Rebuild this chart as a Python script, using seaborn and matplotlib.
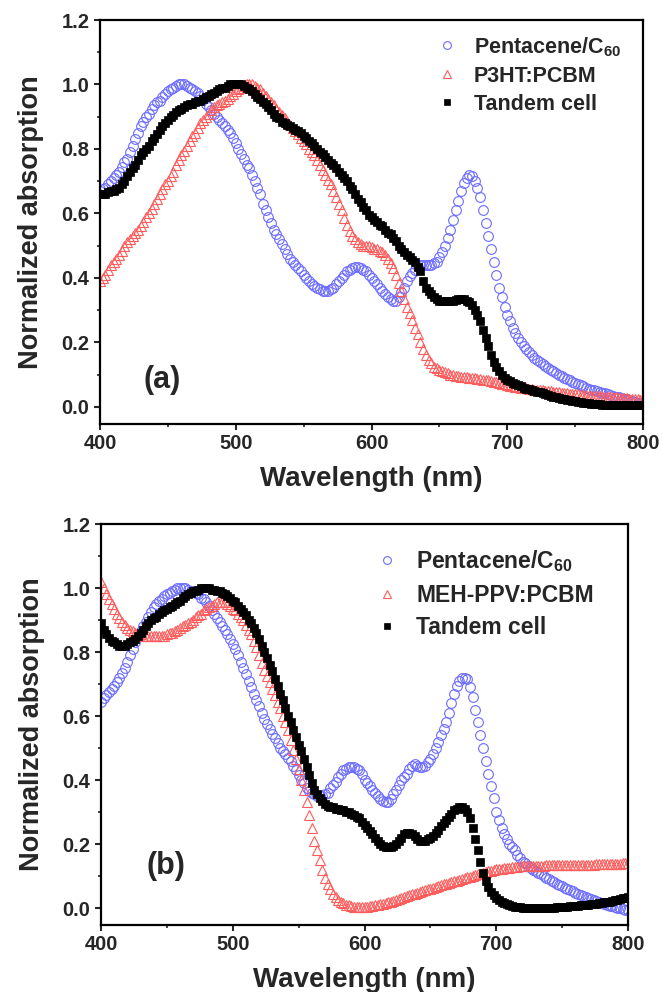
"""Normalized absorption of the sub-cells and the tandem cell, panels (a) and (b)"""

import numpy as np
import pandas as pd
import seaborn as sns
import matplotlib.pyplot as plt

# wavelength grid of the spectra (nm)
wavelength = list(range(400, 801, 2))

# ---- panel (a) ----
pentacene_a = [
    0.67, 0.675, 0.68, 0.69, 0.70, 0.71, 0.72, 0.73, 0.745, 0.76,
    0.77, 0.79, 0.81, 0.83, 0.85, 0.87, 0.885, 0.90, 0.91, 0.925,
    0.935, 0.945, 0.95, 0.96, 0.97, 0.98, 0.985, 0.99, 0.995, 1.0,
    1.0, 1.0, 0.995, 0.99, 0.985, 0.98, 0.975, 0.965, 0.955, 0.94,
    0.93, 0.92, 0.91, 0.90, 0.89, 0.88, 0.87, 0.86, 0.85, 0.835,
    0.82, 0.80, 0.785, 0.77, 0.75, 0.74, 0.72, 0.70, 0.68, 0.66,
    0.63, 0.61, 0.59, 0.57, 0.55, 0.535, 0.52, 0.505, 0.49, 0.475,
    0.46, 0.45, 0.44, 0.43, 0.42, 0.41, 0.40, 0.39, 0.38, 0.375,
    0.37, 0.365, 0.36, 0.36, 0.36, 0.365, 0.37, 0.38, 0.39, 0.40,
    0.41, 0.42, 0.425, 0.43, 0.435, 0.435, 0.43, 0.425, 0.42, 0.41,
    0.40, 0.39, 0.38, 0.37, 0.36, 0.35, 0.34, 0.335, 0.33, 0.33,
    0.34, 0.355, 0.37, 0.39, 0.405, 0.415, 0.425, 0.435, 0.44, 0.44,
    0.44, 0.44, 0.44, 0.445, 0.45, 0.465, 0.48, 0.50, 0.525, 0.55,
    0.58, 0.61, 0.64, 0.67, 0.695, 0.71, 0.72, 0.715, 0.70, 0.68,
    0.65, 0.61, 0.57, 0.53, 0.49, 0.45, 0.41, 0.37, 0.34, 0.31,
    0.285, 0.265, 0.245, 0.23, 0.215, 0.20, 0.19, 0.18, 0.17, 0.16,
    0.152, 0.145, 0.138, 0.132, 0.126, 0.12, 0.115, 0.11, 0.105, 0.10,
    0.095, 0.09, 0.086, 0.082, 0.078, 0.074, 0.07, 0.067, 0.064, 0.06,
    0.057, 0.054, 0.051, 0.048, 0.046, 0.044, 0.042, 0.04, 0.038, 0.035,
    0.032, 0.03, 0.028, 0.026, 0.024, 0.021, 0.018, 0.016, 0.013, 0.011,
    0.01]

p3ht_a = [
    0.39, 0.40, 0.41, 0.425, 0.44, 0.45, 0.46, 0.47, 0.485, 0.50,
    0.51, 0.52, 0.53, 0.54, 0.55, 0.56, 0.575, 0.59, 0.60, 0.615,
    0.63, 0.645, 0.66, 0.675, 0.69, 0.70, 0.715, 0.73, 0.75, 0.765,
    0.78, 0.795, 0.81, 0.825, 0.84, 0.85, 0.865, 0.88, 0.89, 0.90,
    0.91, 0.92, 0.93, 0.935, 0.94, 0.945, 0.95, 0.955, 0.965, 0.97,
    0.98, 0.985, 0.99, 0.995, 1.0, 1.0, 1.0, 0.995, 0.99, 0.985,
    0.975, 0.965, 0.955, 0.945, 0.935, 0.925, 0.915, 0.905, 0.895, 0.885,
    0.875, 0.865, 0.855, 0.845, 0.835, 0.825, 0.815, 0.80, 0.79, 0.78,
    0.765, 0.75, 0.735, 0.72, 0.705, 0.69, 0.67, 0.65, 0.63, 0.61,
    0.585, 0.565, 0.545, 0.53, 0.52, 0.51, 0.505, 0.50, 0.50, 0.50,
    0.495, 0.49, 0.49, 0.485, 0.48, 0.47, 0.46, 0.445, 0.43, 0.41,
    0.385, 0.36, 0.335, 0.31, 0.29, 0.27, 0.245, 0.225, 0.20, 0.18,
    0.16, 0.145, 0.135, 0.125, 0.12, 0.115, 0.11, 0.107, 0.105, 0.10,
    0.098, 0.096, 0.095, 0.094, 0.093, 0.092, 0.091, 0.09, 0.089, 0.088,
    0.086, 0.085, 0.083, 0.082, 0.08, 0.078, 0.076, 0.074, 0.072, 0.07,
    0.068, 0.066, 0.065, 0.063, 0.062, 0.06, 0.059, 0.058, 0.056, 0.055,
    0.054, 0.053, 0.052, 0.051, 0.05, 0.049, 0.048, 0.047, 0.046, 0.045,
    0.044, 0.043, 0.042, 0.041, 0.04, 0.04, 0.039, 0.038, 0.037, 0.036,
    0.035, 0.035, 0.034, 0.033, 0.033, 0.032, 0.031, 0.031, 0.03, 0.03,
    0.03, 0.029, 0.029, 0.028, 0.027, 0.026, 0.025, 0.024, 0.023, 0.022,
    0.02]

tandem_a = [
    0.66, 0.66, 0.66, 0.665, 0.67, 0.67, 0.675, 0.68, 0.69, 0.70,
    0.715, 0.73, 0.74, 0.75, 0.765, 0.78, 0.79, 0.80, 0.81, 0.825,
    0.835, 0.845, 0.86, 0.87, 0.88, 0.89, 0.90, 0.905, 0.915, 0.92,
    0.925, 0.93, 0.935, 0.94, 0.94, 0.945, 0.95, 0.95, 0.955, 0.96,
    0.965, 0.97, 0.975, 0.98, 0.985, 0.99, 0.99, 0.995, 1.0, 1.0,
    1.0, 1.0, 1.0, 0.995, 0.99, 0.985, 0.98, 0.97, 0.96, 0.955,
    0.945, 0.94, 0.93, 0.92, 0.91, 0.90, 0.895, 0.885, 0.88, 0.875,
    0.87, 0.865, 0.86, 0.855, 0.85, 0.84, 0.835, 0.825, 0.82, 0.81,
    0.80, 0.79, 0.785, 0.775, 0.765, 0.755, 0.75, 0.74, 0.73, 0.72,
    0.71, 0.70, 0.685, 0.675, 0.66, 0.645, 0.635, 0.62, 0.61, 0.595,
    0.59, 0.58, 0.575, 0.565, 0.56, 0.55, 0.54, 0.535, 0.525, 0.515,
    0.50, 0.49, 0.48, 0.47, 0.465, 0.455, 0.45, 0.435, 0.42, 0.39,
    0.37, 0.36, 0.35, 0.34, 0.335, 0.33, 0.33, 0.33, 0.33, 0.33,
    0.33, 0.333, 0.335, 0.335, 0.335, 0.33, 0.325, 0.315, 0.30, 0.285,
    0.265, 0.24, 0.215, 0.19, 0.16, 0.14, 0.125, 0.11, 0.10, 0.09,
    0.085, 0.08, 0.075, 0.07, 0.067, 0.064, 0.06, 0.057, 0.055, 0.052,
    0.05, 0.047, 0.045, 0.042, 0.04, 0.037, 0.035, 0.032, 0.03, 0.028,
    0.026, 0.024, 0.022, 0.02, 0.018, 0.017, 0.016, 0.015, 0.013, 0.012,
    0.011, 0.01, 0.009, 0.008, 0.008, 0.007, 0.007, 0.007, 0.007, 0.007,
    0.007, 0.007, 0.007, 0.006, 0.006, 0.006, 0.006, 0.006, 0.006, 0.006,
    0.006]

# ---- panel (b) ----
pentacene_b = [
    0.645, 0.655, 0.665, 0.675, 0.685, 0.695, 0.705, 0.72, 0.735, 0.75,
    0.77, 0.79, 0.81, 0.83, 0.85, 0.865, 0.88, 0.895, 0.91, 0.925,
    0.94, 0.95, 0.96, 0.965, 0.975, 0.98, 0.985, 0.99, 0.995, 1.0,
    1.0, 1.0, 1.0, 0.995, 0.99, 0.99, 0.985, 0.98, 0.97, 0.965,
    0.955, 0.945, 0.93, 0.92, 0.905, 0.895, 0.88, 0.87, 0.855, 0.84,
    0.825, 0.81, 0.79, 0.77, 0.75, 0.73, 0.71, 0.69, 0.67, 0.65,
    0.63, 0.61, 0.59, 0.575, 0.56, 0.545, 0.53, 0.515, 0.50, 0.49,
    0.48, 0.47, 0.46, 0.445, 0.43, 0.415, 0.40, 0.39, 0.375, 0.365,
    0.36, 0.355, 0.35, 0.35, 0.35, 0.355, 0.36, 0.375, 0.385, 0.395,
    0.41, 0.42, 0.43, 0.435, 0.44, 0.44, 0.44, 0.435, 0.43, 0.42,
    0.40, 0.39, 0.38, 0.37, 0.36, 0.35, 0.34, 0.335, 0.33, 0.33,
    0.34, 0.355, 0.37, 0.385, 0.40, 0.41, 0.42, 0.435, 0.445, 0.45,
    0.445, 0.44, 0.44, 0.445, 0.455, 0.465, 0.48, 0.50, 0.52, 0.54,
    0.56, 0.58, 0.61, 0.64, 0.67, 0.695, 0.71, 0.72, 0.72, 0.715,
    0.69, 0.66, 0.62, 0.58, 0.54, 0.50, 0.46, 0.42, 0.38, 0.345,
    0.30, 0.275, 0.25, 0.23, 0.215, 0.20, 0.19, 0.18, 0.165, 0.155,
    0.145, 0.14, 0.13, 0.125, 0.12, 0.115, 0.11, 0.105, 0.10, 0.095,
    0.09, 0.085, 0.08, 0.075, 0.072, 0.068, 0.064, 0.06, 0.056, 0.052,
    0.048, 0.045, 0.042, 0.038, 0.035, 0.032, 0.028, 0.025, 0.022, 0.018,
    0.015, 0.012, 0.01, 0.007, 0.005, 0.003, 0.001, 0.0, -0.003, -0.005,
    -0.006]

mehppv_b = [
    1.02, 1.0, 0.98, 0.965, 0.95, 0.935, 0.92, 0.905, 0.895, 0.885,
    0.875, 0.87, 0.865, 0.86, 0.855, 0.855, 0.85, 0.85, 0.85, 0.85,
    0.85, 0.85, 0.85, 0.85, 0.85, 0.855, 0.86, 0.86, 0.865, 0.87,
    0.875, 0.88, 0.885, 0.89, 0.895, 0.90, 0.91, 0.915, 0.92, 0.93,
    0.935, 0.94, 0.945, 0.95, 0.955, 0.955, 0.955, 0.955, 0.95, 0.945,
    0.935, 0.93, 0.92, 0.91, 0.90, 0.885, 0.87, 0.855, 0.835, 0.815,
    0.79, 0.765, 0.745, 0.725, 0.705, 0.685, 0.665, 0.645, 0.625, 0.60,
    0.58, 0.555, 0.525, 0.495, 0.465, 0.435, 0.40, 0.37, 0.33, 0.29,
    0.25, 0.21, 0.18, 0.15, 0.12, 0.095, 0.075, 0.06, 0.045, 0.035,
    0.025, 0.02, 0.015, 0.01, 0.008, 0.006, 0.004, 0.003, 0.003, 0.002,
    0.003, 0.004, 0.005, 0.006, 0.008, 0.01, 0.012, 0.014, 0.016, 0.018,
    0.02, 0.023, 0.026, 0.029, 0.032, 0.035, 0.038, 0.04, 0.043, 0.045,
    0.048, 0.05, 0.053, 0.056, 0.058, 0.061, 0.064, 0.066, 0.069, 0.071,
    0.074, 0.076, 0.079, 0.081, 0.084, 0.086, 0.089, 0.091, 0.093, 0.096,
    0.098, 0.10, 0.103, 0.105, 0.107, 0.11, 0.112, 0.115, 0.117, 0.12,
    0.121, 0.122, 0.123, 0.124, 0.125, 0.126, 0.127, 0.128, 0.129, 0.13,
    0.13, 0.13, 0.131, 0.131, 0.131, 0.132, 0.132, 0.132, 0.132, 0.133,
    0.133, 0.133, 0.133, 0.133, 0.134, 0.134, 0.134, 0.134, 0.134, 0.134,
    0.135, 0.135, 0.135, 0.135, 0.136, 0.136, 0.136, 0.136, 0.137, 0.137,
    0.137, 0.137, 0.138, 0.138, 0.138, 0.139, 0.139, 0.139, 0.14, 0.14,
    0.14]

tandem_b = [
    0.89, 0.87, 0.855, 0.845, 0.835, 0.83, 0.825, 0.82, 0.82, 0.82,
    0.825, 0.83, 0.835, 0.84, 0.85, 0.86, 0.87, 0.88, 0.89, 0.90,
    0.905, 0.91, 0.92, 0.925, 0.93, 0.935, 0.94, 0.945, 0.95, 0.955,
    0.96, 0.97, 0.975, 0.98, 0.985, 0.99, 0.99, 0.995, 1.0, 1.0,
    1.0, 1.0, 0.995, 0.995, 0.99, 0.99, 0.985, 0.98, 0.975, 0.97,
    0.96, 0.955, 0.945, 0.935, 0.925, 0.915, 0.90, 0.89, 0.875, 0.86,
    0.84, 0.82, 0.80, 0.78, 0.76, 0.74, 0.715, 0.695, 0.67, 0.65,
    0.625, 0.60, 0.58, 0.555, 0.535, 0.51, 0.49, 0.465, 0.44, 0.415,
    0.39, 0.37, 0.355, 0.345, 0.335, 0.325, 0.32, 0.315, 0.315, 0.31,
    0.31, 0.305, 0.305, 0.30, 0.30, 0.295, 0.29, 0.285, 0.28, 0.27,
    0.26, 0.25, 0.24, 0.23, 0.22, 0.21, 0.20, 0.195, 0.19, 0.19,
    0.19, 0.195, 0.20, 0.21, 0.22, 0.23, 0.235, 0.235, 0.23, 0.225,
    0.215, 0.21, 0.21, 0.21, 0.215, 0.22, 0.225, 0.235, 0.245, 0.255,
    0.265, 0.275, 0.285, 0.295, 0.305, 0.31, 0.315, 0.315, 0.31, 0.30,
    0.28, 0.25, 0.215, 0.18, 0.145, 0.11, 0.085, 0.065, 0.05, 0.04,
    0.032, 0.025, 0.02, 0.015, 0.012, 0.009, 0.006, 0.004, 0.003, 0.002,
    0.001, 0.0, 0.0, 0.0, 0.0, 0.0, 0.0, 0.0, 0.0, 0.0,
    0.0, 0.001, 0.001, 0.002, 0.002, 0.003, 0.003, 0.004, 0.005, 0.005,
    0.006, 0.007, 0.008, 0.009, 0.01, 0.011, 0.012, 0.013, 0.014, 0.015,
    0.016, 0.018, 0.019, 0.02, 0.022, 0.024, 0.026, 0.028, 0.03, 0.032,
    0.034]

labels_a = ['Pentacene/C$_{60}$', 'P3HT:PCBM', 'Tandem cell']
labels_b = ['Pentacene/C$_{60}$', 'MEH-PPV:PCBM', 'Tandem cell']

BLUE = '#6b6bff'
RED = '#ff5c5c'


def plot_panel(ax, series, labels, tag, tag_xy, leg_anchor, leg_pad, leg_space, leg_size):
    """Draw the three spectra of one panel."""

    df = pd.DataFrame({'wl': wavelength, 's0': series[0], 's1': series[1], 's2': series[2]})
    sns.lineplot(data=df, x='wl', y='s0', ax=ax, label=labels[0], estimator=None, sort=False,
                 linestyle='', marker='o', markersize=7, markerfacecolor='none',
                 markeredgecolor=BLUE, markeredgewidth=0.8, color=BLUE)
    sns.lineplot(data=df, x='wl', y='s1', ax=ax, label=labels[1], estimator=None, sort=False,
                 linestyle='', marker='^', markersize=7.5, markerfacecolor='none',
                 markeredgecolor=RED, markeredgewidth=0.8, color=RED)
    sns.lineplot(data=df, x='wl', y='s2', ax=ax, label=labels[2], estimator=None, sort=False,
                 linestyle='', marker='s', markersize=6, markerfacecolor='black',
                 markeredgecolor='black', markeredgewidth=0.5, color='black')

    ax.set_xlim(400, 800)
    ax.set_ylim(-0.053, 1.2)
    ax.set_xticks([400, 500, 600, 700, 800])
    ax.set_xticks([450, 550, 650, 750], minor=True)
    ax.set_yticks([0.0, 0.2, 0.4, 0.6, 0.8, 1.0, 1.2])
    ax.set_yticks([0.1, 0.3, 0.5, 0.7, 0.9, 1.1], minor=True)
    ax.yaxis.set_major_formatter(plt.FormatStrFormatter('%.1f'))
    ax.tick_params(which='major', direction='out', length=4, width=1.5,
                   labelsize=14.5, pad=3.5, top=False, right=False)
    ax.tick_params(which='minor', direction='out', length=2.5, width=1.2, top=False, right=False)
    for lab in ax.get_xticklabels() + ax.get_yticklabels():
        lab.set_fontweight('bold')
    for sp in ax.spines.values():
        sp.set_linewidth(1.6)
        sp.set_color('black')

    ax.set_xlabel('Wavelength (nm)', fontsize=20, fontweight='bold', labelpad=9)
    ax.set_ylabel('Normalized absorption', fontsize=19.5, fontweight='bold', labelpad=13)
    ax.text(tag_xy[0], tag_xy[1], tag, fontsize=22, fontweight='bold', ha='center', va='center')

    ax.legend(loc='upper left', bbox_to_anchor=leg_anchor, bbox_transform=ax.figure.transFigure,
              frameon=False, borderpad=0, borderaxespad=0, handlelength=1.0,
              handletextpad=leg_pad, labelspacing=leg_space, markerscale=0.8,
              prop={'weight': 'bold', 'size': leg_size})


sns.set_style('ticks')
plt.rcParams['font.family'] = ['Liberation Sans', 'DejaVu Sans']
plt.rcParams['mathtext.fontset'] = 'custom'
plt.rcParams['mathtext.rm'] = 'Liberation Sans:bold'
plt.rcParams['mathtext.it'] = 'Liberation Sans:bold'
plt.rcParams['mathtext.bf'] = 'Liberation Sans:bold'

fig = plt.figure(figsize=(6.62, 9.92), dpi=100)
ax1 = fig.add_axes([100 / 662, 1 - 424 / 992, 543 / 662, 404 / 992])
ax2 = fig.add_axes([101 / 662, 1 - 925 / 992, 527 / 662, 401 / 992])

plot_panel(ax1, [pentacene_a, p3ht_a, tandem_a], labels_a, '(a)', (446, 0.083),
           (436 / 662, 1 - 35 / 992), 0.75, 0.33, 15.5)
plot_panel(ax2, [pentacene_b, mehppv_b, tandem_b], labels_b, '(b)', (449, 0.131),
           (376 / 662, 1 - 548 / 992), 0.75, 0.42, 16.5)

fig.savefig('out.png', dpi=100)
